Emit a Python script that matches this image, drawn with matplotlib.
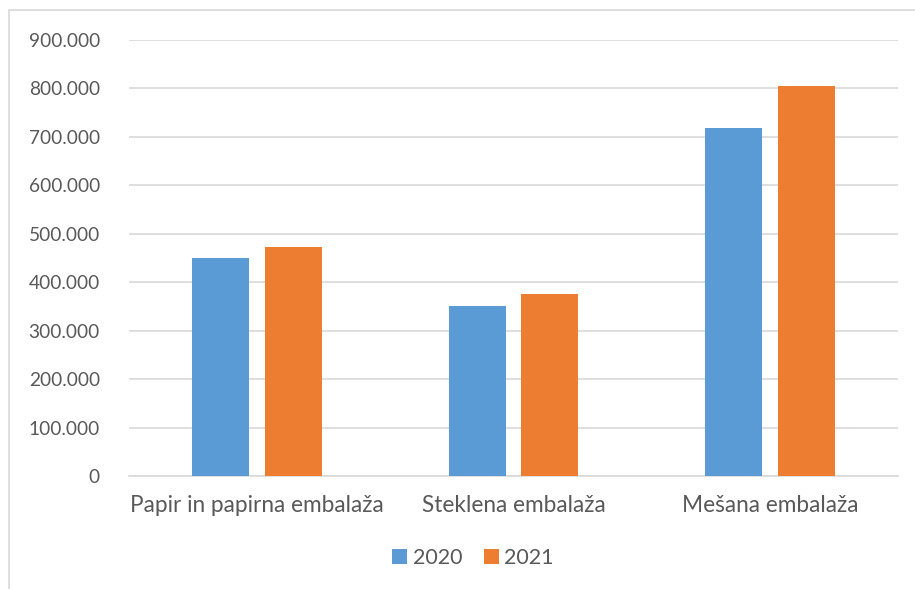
import matplotlib
matplotlib.use('Agg')
import matplotlib.pyplot as plt
from matplotlib.patches import Rectangle
from matplotlib.ticker import FuncFormatter
import numpy as np

categories = ['Papir in papirna embalaža', 'Steklena embalaža', 'Mešana embalaža']
years = ['2020', '2021']
values_2020 = [450000, 351000, 718000]
values_2021 = [472000, 375000, 805000]

blue = '#5B9BD5'
orange = '#ED7D31'
text_color = '#595959'
grid_color = '#D9D9D9'

plt.rcParams['font.family'] = ['Lato', 'DejaVu Sans']

W, H = 915, 589
fig = plt.figure(figsize=(W / 100, H / 100), dpi=100)
ax = fig.add_axes([129 / W, 1 - 476 / H, (898 - 129) / W, (476 - 40) / H])

# chart area border (open to the right and bottom like the crop)
fig.patches.append(Rectangle((9 / W, -0.1), 1.2, 1 - 10 / H + 0.1, transform=fig.transFigure,
                             fill=False, edgecolor=grid_color, linewidth=1.2))

x = np.arange(len(categories))
bw = 0.222
off = 0.142
ax.bar(x - off, values_2020, bw, color=blue, label=years[0], zorder=3)
ax.bar(x + off, values_2021, bw, color=orange, label=years[1], zorder=3)

ax.set_xlim(-0.5, len(categories) - 0.5)
ax.set_ylim(0, 900000)
ax.set_yticks(np.arange(0, 900001, 100000))
ax.yaxis.set_major_formatter(FuncFormatter(lambda v, p: f'{int(v):,}'.replace(',', '.')))
ax.set_xticks(x)
ax.set_xticklabels(categories)

ax.grid(axis='y', color=grid_color, linewidth=1.2, zorder=0)
for s in ax.spines.values():
    s.set_visible(False)
ax.spines['bottom'].set_visible(True)
ax.spines['bottom'].set_color(grid_color)
ax.spines['bottom'].set_linewidth(1.2)
ax.tick_params(axis='both', length=0, colors=text_color)
ax.tick_params(axis='y', pad=21, labelsize=13.8)
ax.tick_params(axis='x', pad=14, labelsize=16.3)

leg = fig.legend(loc='center', bbox_to_anchor=(473 / W, 1 - 558 / H), ncol=2, frameon=False,
                 fontsize=15.5, handlelength=0.7, handleheight=0.7, handletextpad=0.25,
                 columnspacing=1.0)
for t in leg.get_texts():
    t.set_color(text_color)

fig.savefig('out.png', dpi=100)
